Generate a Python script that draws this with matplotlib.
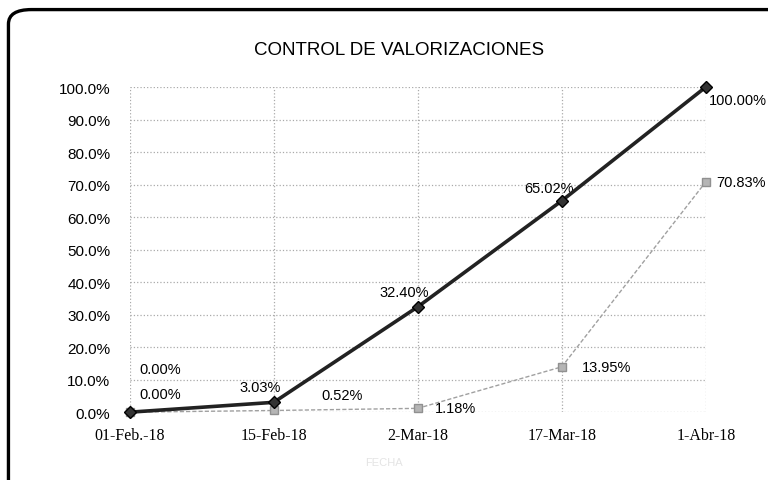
import numpy as np
import matplotlib.pyplot as plt
from matplotlib.patches import FancyBboxPatch
from matplotlib.ticker import PercentFormatter

fechas = ['01-Feb.-18', '15-Feb-18', '2-Mar-18', '17-Mar-18', '1-Abr-18']
programado = [0.00, 3.03, 32.40, 65.02, 100.00]
ejecutado = [0.00, 0.52, 1.18, 13.95, 70.83]

# label offsets (points, label centre relative to the point)
off_prog = [(22, 31), (-10, 11), (-10, 11), (-9, 9), (23, -9)]
off_ejec = [(22, 13), (49, 11), (27, 0), (32, 0), (25, 0)]

fig = plt.figure(figsize=(7.68, 4.81), dpi=100)

# rounded frame, cut off on right and bottom like the scan
frame = FancyBboxPatch((0.011, -0.05), 1.05, 1.028,
                       boxstyle='round,pad=0,rounding_size=0.03',
                       transform=fig.transFigure, fill=False,
                       edgecolor='black', linewidth=2.4, clip_on=False)
fig.patches.append(frame)

ax = fig.add_axes([0.169, 0.141, 0.75, 0.676])
x = np.arange(len(fechas))

ax.plot(x, ejecutado, color='#a0a0a0', linewidth=1.0, linestyle=(0, (3, 1.5)),
        marker='s', markersize=6, markerfacecolor='#b5b5b5',
        markeredgecolor='#909090', zorder=3, clip_on=False)
ax.plot(x, programado, color='#222222', linewidth=2.6,
        marker='D', markersize=6, markerfacecolor='#333333',
        markeredgecolor='black', zorder=4, clip_on=False)

for xi, v, o in zip(x, programado, off_prog):
    ax.annotate(f'{v:.2f}%', (xi, v), xytext=o, textcoords='offset points',
                ha='center', va='center', fontsize=10.5, family='Liberation Sans')
for xi, v, o in zip(x, ejecutado, off_ejec):
    ax.annotate(f'{v:.2f}%', (xi, v), xytext=o, textcoords='offset points',
                ha='center', va='center', fontsize=10.5, family='Liberation Sans')

ax.set_xlim(0, 4)
ax.set_ylim(0, 100)
ax.set_yticks(np.arange(0, 101, 10))
ax.yaxis.set_major_formatter(PercentFormatter(decimals=1))
ax.set_xticks(x)
ax.set_xticklabels(fechas, family='Liberation Serif', fontsize=11.5)
for lab in ax.get_yticklabels():
    lab.set_family('Liberation Sans')
    lab.set_fontsize(11)
ax.tick_params(axis='y', length=0, pad=14)
ax.tick_params(axis='x', length=0, pad=11)

ax.grid(True, color='#aaaaaa', linestyle=':', linewidth=0.9)
ax.set_axisbelow(True)
for s in ax.spines.values():
    s.set_visible(False)

fig.text(0.52, 0.896, 'CONTROL DE VALORIZACIONES', ha='center', va='center',
         fontsize=13.5, family='Liberation Sans')
fig.text(0.5, 0.037, 'FECHA', ha='center', va='center', fontsize=8,
         color='#e4e4e4', family='Liberation Sans')

fig.savefig('out.png', dpi=100)
